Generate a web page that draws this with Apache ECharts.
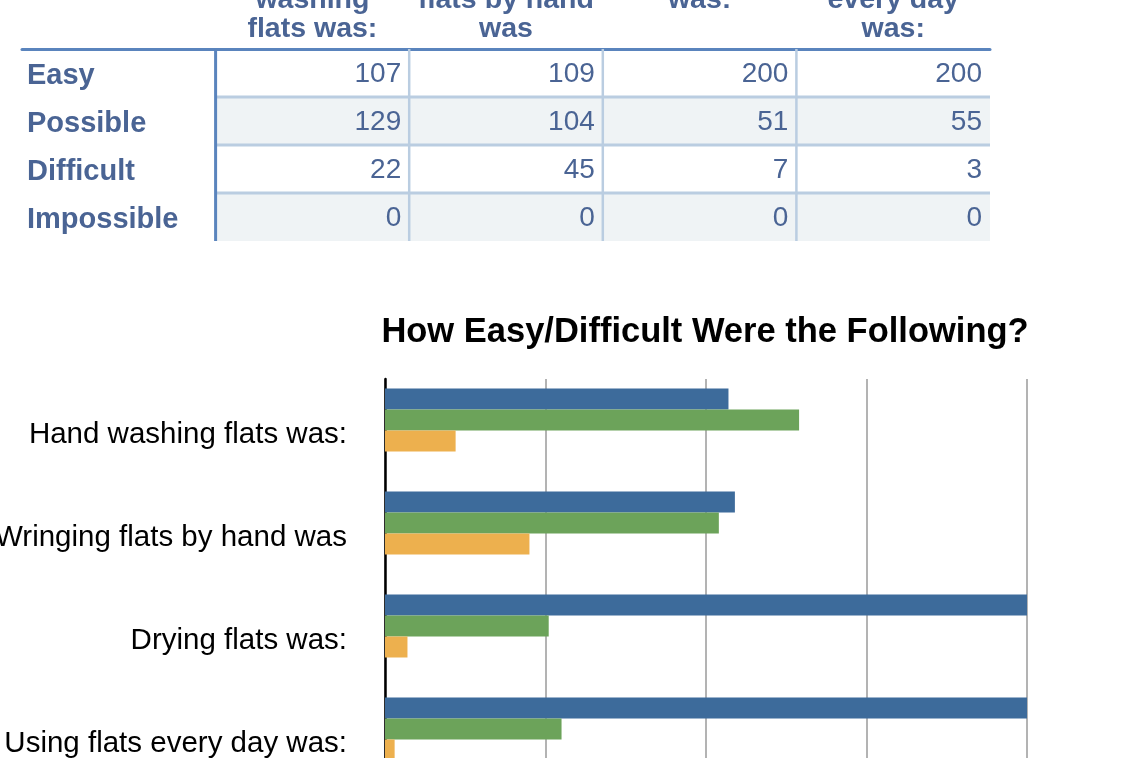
<!DOCTYPE html>
<html>
<head>
<meta charset="utf-8">
<script src="https://cdn.jsdelivr.net/npm/echarts@6/dist/echarts.min.js"></script>
<style>
html,body{margin:0;padding:0;background:#fff;overflow:hidden;}
#chart{width:1128px;height:758px;}
</style>
</head>
<body>
<div id="chart"></div>
<script>
// ---- data ----
const categories = ['Hand washing flats was:', 'Wringing flats by hand was', 'Drying flats was:', 'Using flats every day was:'];
const headerLines = ['Hand\nwashing\nflats was:', 'Wringing\nflats by hand\nwas', 'Drying flats\nwas:', 'Using flats\nevery day\nwas:'];
const levels = ['Easy', 'Possible', 'Difficult', 'Impossible'];
const easy = [107, 109, 200, 200];
const possible = [129, 104, 51, 55];
const difficult = [22, 45, 7, 3];
const impossible = [0, 0, 0, 0];
const xTicks = [0, 50, 100, 150, 200];
const chartTitle = 'How Easy/Difficult Were the Following?';

// ---- build ----
const byLevel = [easy, possible, difficult, impossible];
const FONT = '"Helvetica Neue", Helvetica, Arial, "Liberation Sans", sans-serif';
const TBL = '#4a6494';
const cells = [];
for (let r = 0; r < levels.length; r++) {
  for (let c = 0; c <= categories.length; c++) cells.push([c, r]);
}

const chart = echarts.init(document.getElementById('chart'), null, {renderer: 'canvas'});
chart.setOption({
  animation: false,
  backgroundColor: '#fff',
  textStyle: {fontFamily: FONT},
  title: {
    text: chartTitle, left: 700, top: 310, textAlign: 'center',
    textStyle: {fontSize: 34.5, fontWeight: 'bold', color: '#000', fontFamily: FONT}
  },
  grid: [
    {left: 22, top: 49, width: 968, height: 192, outerBoundsMode: 'none', containLabel: false},
    {left: 385, top: 379, width: 642, height: 412, outerBoundsMode: 'none', containLabel: false}
  ],
  xAxis: [
    {
      type: 'category', gridIndex: 0, position: 'top',
      data: [''].concat(categories),
      axisLine: {show: true, lineStyle: {color: '#5a84bd', width: 3}},
      axisTick: {show: false},
      splitLine: {show: false},
      axisLabel: {
        interval: 0, fontSize: 28.5, fontWeight: 'bold',
        color: TBL, lineHeight: 29, verticalAlign: 'top', margin: 92, fontFamily: FONT,
        formatter: function (v, i) { return i === 0 ? '' : headerLines[i - 1]; }
      }
    },
    {
      type: 'value', gridIndex: 1, min: xTicks[0], max: xTicks[xTicks.length - 1], interval: xTicks[1] - xTicks[0],
      axisLine: {show: false}, axisTick: {show: false},
      axisLabel: {fontSize: 24, color: '#000'},
      splitLine: {show: true, lineStyle: {color: '#b3b3b3', width: 2}}
    }
  ],
  yAxis: [
    {type: 'category', gridIndex: 0, data: levels, inverse: true, show: false},
    {
      type: 'category', gridIndex: 1, data: categories, inverse: true,
      axisLine: {show: true, lineStyle: {color: '#000', width: 2.5}},
      axisTick: {show: false},
      axisLabel: {fontSize: 29.5, color: '#000', margin: 38, verticalAlign: 'top', lineHeight: 8, fontFamily: FONT}
    }
  ],
  series: [
    {
      type: 'custom', xAxisIndex: 0, yAxisIndex: 0, data: cells, silent: true,
      renderItem: function (params, api) {
        const c = api.value(0), r = api.value(1);
        const p = api.coord([c, r]);
        const s = api.size([1, 1]);
        const x0 = p[0] - s[0] / 2, x1 = p[0] + s[0] / 2;
        const y0 = p[1] - s[1] / 2, y1 = p[1] + s[1] / 2;
        const nCols = categories.length, nRows = levels.length;
        const ch = [];
        if (c > 0 && r % 2 === 1) {
          ch.push({type: 'rect', shape: {x: x0, y: y0, width: s[0], height: s[1]}, style: {fill: '#eff3f5'}, z2: 1});
        }
        if (c === 0) {
          ch.push({type: 'text', style: {text: levels[r], x: x0 + 5, y: p[1] + 3, align: 'left', verticalAlign: 'middle',
            fill: TBL, font: 'bold 29px ' + FONT}, z2: 5});
          ch.push({type: 'line', shape: {x1: x1, y1: y0, x2: x1, y2: y1}, style: {stroke: '#5a84bd', lineWidth: 3}, z2: 20});
        } else {
          ch.push({type: 'text', style: {text: String(byLevel[r][c - 1]), x: x1 - 8, y: p[1] + 1, align: 'right', verticalAlign: 'middle',
            fill: TBL, font: '28px ' + FONT}, z2: 5});
          if (r < nRows - 1) {
            ch.push({type: 'line', shape: {x1: x0, y1: y1, x2: x1, y2: y1}, style: {stroke: '#bacde1', lineWidth: 3}, z2: 10});
          }
          if (c < nCols) {
            ch.push({type: 'line', shape: {x1: x1, y1: y0, x2: x1, y2: y1}, style: {stroke: '#bacde1', lineWidth: 2.5}, z2: 10});
          }
        }
        return {type: 'group', children: ch};
      }
    },
    {name: levels[0], type: 'bar', xAxisIndex: 1, yAxisIndex: 1, data: easy, barWidth: 21, barGap: '0%', itemStyle: {color: '#3d6b9b'}},
    {name: levels[1], type: 'bar', xAxisIndex: 1, yAxisIndex: 1, data: possible, barWidth: 21, barGap: '0%', itemStyle: {color: '#6ca35a'}},
    {name: levels[2], type: 'bar', xAxisIndex: 1, yAxisIndex: 1, data: difficult, barWidth: 21, barGap: '0%', itemStyle: {color: '#edb04e'}},
    {name: levels[3], type: 'bar', xAxisIndex: 1, yAxisIndex: 1, data: impossible, barWidth: 21, barGap: '0%', itemStyle: {color: '#d0503f'}}
  ]
});
</script>
</body>
</html>
